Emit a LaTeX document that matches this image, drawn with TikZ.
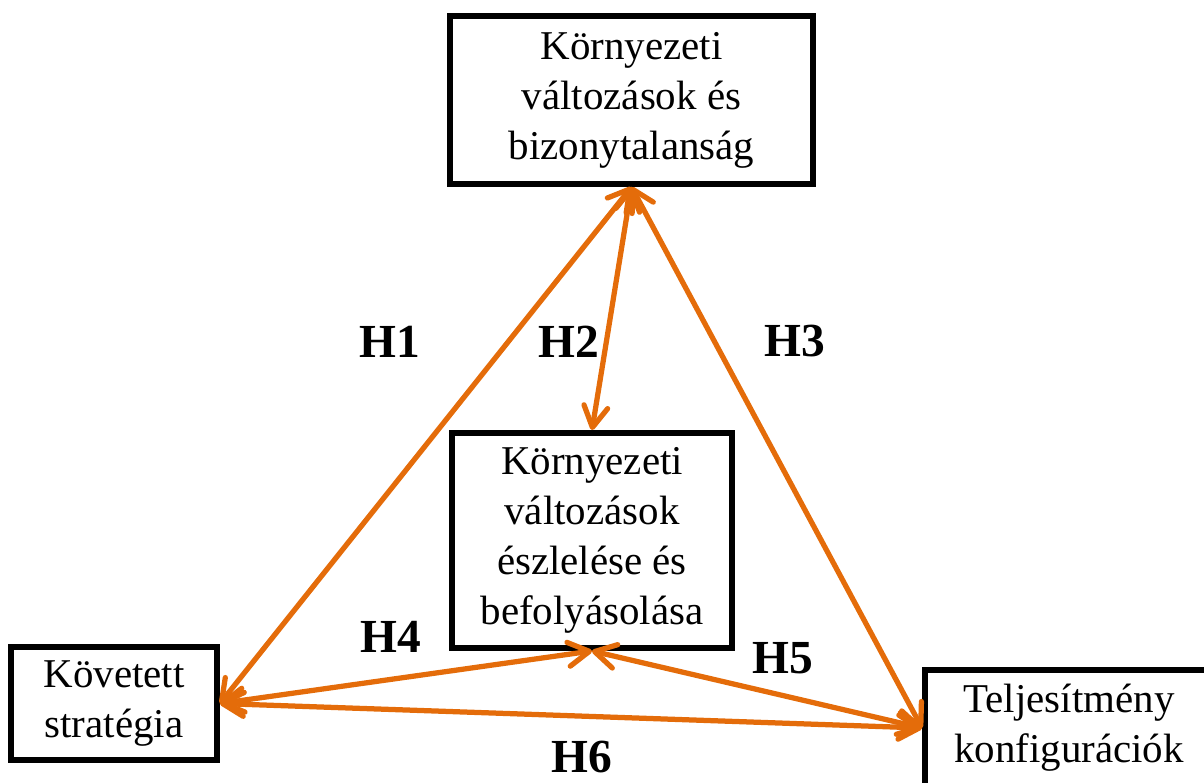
\documentclass[tikz,border=0pt]{standalone}
\usepackage{fontspec}
\setmainfont{Liberation Serif}
\usetikzlibrary{arrows.meta}
\definecolor{arrc}{HTML}{E46C0A}
\newcommand{\bxfont}{\fontsize{23.3}{28.5}\selectfont}
\newcommand{\hlfont}{\fontsize{27}{32}\selectfont\bfseries}
\tikzset{
  bx/.style={draw,line width=1.2mm,align=center,inner sep=0pt,font=\bxfont},
  hl/.style={font=\hlfont,inner sep=0pt},
  ar/.style={{Straight Barb[length=4.2mm,width=4.8mm,round]}-{Straight Barb[length=4.2mm,width=4.8mm,round]},line width=1.05mm,line cap=round,arrc}
}
\begin{document}
\begin{tikzpicture}[x=0.02cm,y=-0.02cm]
\useasboundingbox (0,0) rectangle (1204,783);
\node[bx,minimum width=7.26cm,minimum height=3.36cm] (env) at (631.5,100) {Környezeti\\változások és\\bizonytalanság};
\node[bx,minimum width=5.6cm,minimum height=4.3cm] (perc) at (592,540.5) {Környezeti\\változások\\észlelése és\\befolyásolása};
\node[bx,minimum width=4.12cm,minimum height=2.26cm] (strat) at (114,703.5) {Követett\\stratégia};
\node[bx,minimum width=5.76cm,minimum height=2.32cm] (perf) at (1069,728) {Teljesítmény\\konfigurációk};
\draw[ar] (env.south) -- (strat.east);
\draw[ar] (env.south) -- (perc.north);
\draw[ar] (env.south) -- (perf.west);
\draw[ar] (strat.east) -- (perc.south);
\draw[ar] (perc.south) -- (perf.west);
\draw[ar] (strat.east) -- (perf.west);
\node[hl] (h1) at (390,341.5) {H1};
\node[hl] (h2) at (569,341.5) {H2};
\node[hl] (h3) at (795,341.5) {H3};
\node[hl] (h4) at (391,637) {H4};
\node[hl] (h5) at (783,658) {H5};
\node[hl] (h6) at (582,757) {H6};
\end{tikzpicture}
\end{document}
